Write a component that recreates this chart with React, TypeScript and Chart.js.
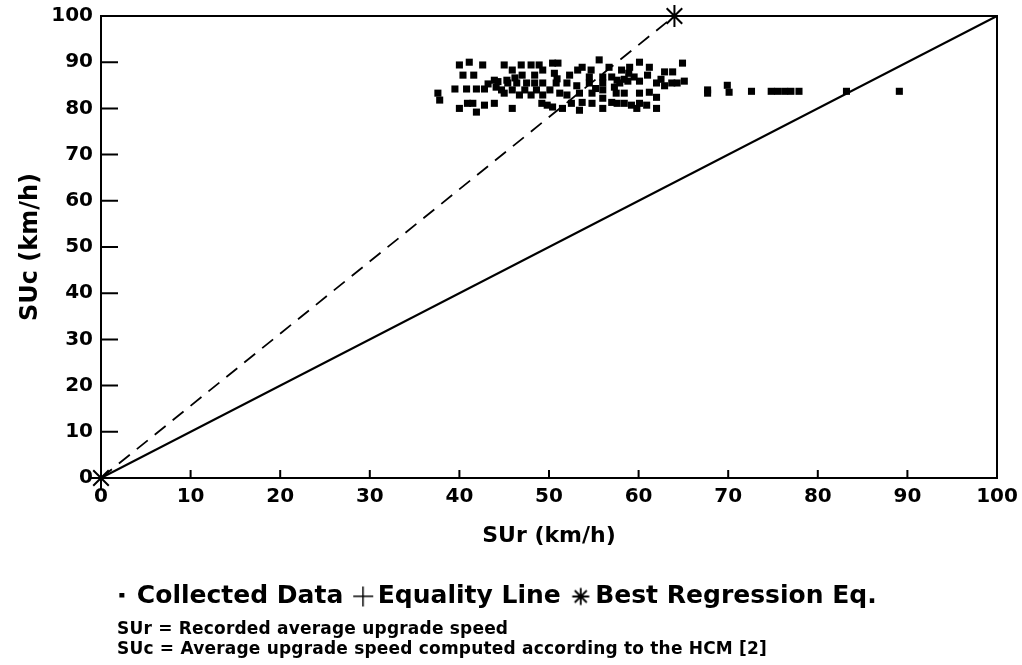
import React, { useEffect, useRef } from "react";
import { Chart, registerables } from "chart.js";

Chart.register(...registerables);

// Collected data: recorded upgrade speed (SUr) and HCM computed speed (SUc)
const collectedSUr: number[] = [
  40.0, 41.1, 42.6, 45.0, 45.9, 46.9, 48.0, 48.9, 49.3, 50.4,
  40.4, 41.6, 43.9, 45.3, 47.0, 48.4,
  39.5, 40.8, 41.9, 42.8, 44.1, 45.4, 46.4, 47.5, 48.4, 49.3,
  44.7, 45.9, 47.3, 48.6, 50.1,
  37.6, 37.8,
  45.0, 46.7, 48.0, 49.3,
  40.0, 40.9, 41.5, 42.8, 43.9, 41.9, 45.9, 49.2, 49.8, 50.4,
  51.0, 55.6, 56.7, 60.1, 59.0, 58.1, 53.7, 53.2, 54.7, 61.2, 62.9, 63.8, 64.9,
  61.0, 50.6, 56.0, 57.0, 57.6, 59.5, 58.4, 52.3, 54.5,
  50.8, 52.0, 53.1, 54.5, 56.0, 57.9, 58.8, 60.1, 62.0, 62.9, 64.3, 65.1, 62.5, 63.7,
  51.2, 52.0, 53.4, 54.8, 56.0, 57.5, 58.4, 60.1, 61.2, 62.0, 57.3,
  52.5, 53.7, 54.8, 56.0, 57.0, 57.6, 58.4, 59.2, 60.1, 60.9, 62.0,
  51.5, 53.4, 56.0, 59.8,
  43.2, 44.3, 46.2, 50.9, 55.2, 58.9,
  67.7, 67.7, 69.9, 70.1, 72.6, 74.8, 75.5, 76.3, 77.0, 77.9, 83.2, 89.1,
];
const collectedSUc: number[] = [
  89.4, 90.0, 89.4, 89.4, 88.3, 89.4, 89.4, 89.4, 88.3, 89.8,
  87.2, 87.2, 86.1, 86.1, 87.2, 87.2,
  84.2, 84.2, 84.2, 84.2, 84.6, 85.5, 85.5, 85.5, 85.5, 85.5,
  84.0, 84.0, 84.0, 84.0, 84.0,
  83.3, 81.8,
  83.3, 82.9, 82.9, 82.9,
  80.0, 81.1, 81.1, 80.7, 81.1, 79.2, 80.0, 81.1, 80.7, 80.3,
  89.8, 90.5, 88.9, 90.0, 88.9, 88.3, 88.9, 88.3, 88.3, 88.9, 87.9, 87.9, 89.8,
  87.2, 87.6, 86.8, 86.8, 86.1, 86.8, 86.3, 87.2, 86.8,
  85.5, 85.5, 84.9, 85.5, 85.5, 85.5, 85.9, 85.9, 85.5, 84.9, 85.5, 85.9, 86.3, 85.5,
  83.3, 82.9, 83.3, 83.3, 84.0, 83.3, 83.3, 83.3, 83.5, 82.4, 84.6,
  81.1, 81.3, 81.1, 82.2, 81.3, 81.1, 81.1, 80.7, 81.1, 80.7, 80.0,
  80.0, 79.6, 80.0, 80.0,
  85.3, 85.8, 86.6, 86.4, 84.3, 87.6,
  83.3, 84.0, 85.0, 83.5, 83.7, 83.7, 83.7, 83.7, 83.7, 83.7, 83.7, 83.7,
];

// Equality line and best regression line end points
const equalitySUr: number[] = [0, 100];
const equalitySUc: number[] = [0, 100];
const regressionSUr: number[] = [0, 64];
const regressionSUc: number[] = [0, 100];

const xTicks: number[] = [0, 10, 20, 30, 40, 50, 60, 70, 80, 90, 100];
const yTicks: number[] = [0, 10, 20, 30, 40, 50, 60, 70, 80, 90, 100];

const legendLabels: string[] = ["Collected Data", "Equality Line", "Best Regression Eq."];
const notes: string[] = [
  "SUr = Recorded average upgrade speed",
  "SUc = Average upgrade speed computed according to the HCM [2]",
];

const FONT = "'DejaVu Sans', 'Liberation Sans', sans-serif";

function makeMarker(kind: string): HTMLCanvasElement {
  const c = document.createElement("canvas");
  const size = kind === "rect" ? 8 : 22;
  c.width = size;
  c.height = size;
  const ctx = c.getContext("2d")!;
  ctx.strokeStyle = "#000";
  ctx.fillStyle = "#000";
  if (kind === "rect") {
    ctx.fillRect(1, 0, 5, 5);
  } else if (kind === "cross") {
    ctx.fillRect(1, 10, 20, 1.5);
    ctx.fillRect(10, 1, 1.5, 20);
  } else {
    ctx.lineWidth = 1.8;
    const cx = 11, cy = 11, r = 8.5;
    ctx.beginPath();
    for (let k = 0; k < 4; k++) {
      const a = (Math.PI / 4) * k;
      ctx.moveTo(cx + r * Math.cos(a), cy + r * Math.sin(a));
      ctx.lineTo(cx - r * Math.cos(a), cy - r * Math.sin(a));
    }
    ctx.stroke();
  }
  return c;
}

const framePlugin = {
  id: "frameTicks",
  afterDraw(chart: any) {
    const { ctx, chartArea, scales } = chart;
    const { left, right, top, bottom } = chartArea;
    ctx.save();
    ctx.strokeStyle = "#000";
    ctx.lineWidth = 2;
    ctx.strokeRect(left, top, right - left, bottom - top);
    ctx.beginPath();
    scales.y.ticks.forEach((t: any) => {
      const py = scales.y.getPixelForValue(t.value);
      ctx.moveTo(left, py);
      ctx.lineTo(left + 17, py);
    });
    scales.x.ticks.forEach((t: any) => {
      const px = scales.x.getPixelForValue(t.value);
      ctx.moveTo(px, bottom);
      ctx.lineTo(px, bottom - 8);
    });
    ctx.stroke();
    ctx.restore();
  },
};

export default function App() {
  const canvasRef = useRef<HTMLCanvasElement | null>(null);

  useEffect(() => {
    document.body.style.margin = "0";
    const markers = [makeMarker("rect"), makeMarker("cross"), makeMarker("star")];
    const chart = new Chart(canvasRef.current!, {
      type: "scatter",
      data: {
        datasets: [
          {
            label: legendLabels[0],
            data: collectedSUr.map((x, i) => ({ x, y: collectedSUc[i] })),
            pointStyle: "rect",
            pointRadius: 5,
            backgroundColor: "#000",
            borderColor: "#000",
            borderWidth: 0,
          },
          {
            label: legendLabels[1],
            type: "line",
            data: equalitySUr.map((x, i) => ({ x, y: equalitySUc[i] })),
            borderColor: "#000",
            borderWidth: 2,
            pointRadius: 0,
            pointStyle: "cross",
            showLine: true,
            fill: false,
            clip: false,
          } as any,
          {
            label: legendLabels[2],
            type: "line",
            data: regressionSUr.map((x, i) => ({ x, y: regressionSUc[i] })),
            borderColor: "#000",
            borderWidth: 1.8,
            borderDash: [14, 9],
            pointStyle: "star",
            pointRadius: 11,
            pointBorderWidth: 2,
            pointBorderColor: "#000",
            pointBackgroundColor: "#000",
            showLine: true,
            fill: false,
            clip: false,
          } as any,
        ],
      },
      options: {
        animation: false,
        responsive: false,
        color: "#000",
        layout: { padding: { left: 0, right: 25, top: 16, bottom: 46 } },
        scales: {
          x: {
            type: "linear",
            min: 0,
            max: 100,
            afterBuildTicks: (s: any) => {
              s.ticks = xTicks.map((v) => ({ value: v }));
            },
            afterFit: (s: any) => {
              s.height = 88;
              s.paddingLeft = 0;
              s.paddingRight = 0;
            },
            grid: { display: false, drawTicks: false },
            border: { display: false },
            ticks: {
              color: "#000",
              padding: 7,
              maxRotation: 0,
              font: { family: FONT, size: 20, weight: "bold" },
            },
            title: {
              display: true,
              text: "SUr (km/h)",
              color: "#000",
              padding: { top: 2, bottom: 17 },
              font: { family: FONT, size: 22, weight: "bold" },
            },
          },
          y: {
            type: "linear",
            min: 0,
            max: 100,
            afterBuildTicks: (s: any) => {
              s.ticks = yTicks.map((v) => ({ value: v }));
            },
            afterFit: (s: any) => {
              s.width = 101;
              s.paddingTop = 0;
              s.paddingBottom = 0;
            },
            grid: { display: false, drawTicks: false },
            border: { display: false },
            ticks: {
              color: "#000",
              padding: 8,
              font: { family: FONT, size: 20, weight: "bold" },
            },
            title: {
              display: true,
              text: "SUc (km/h)",
              color: "#000",
              padding: { top: 16, bottom: 4 },
              font: { family: FONT, size: 24, weight: "bold" },
            },
          },
        },
        plugins: {
          legend: {
            display: true,
            position: "bottom",
            labels: {
              usePointStyle: true,
              pointStyleWidth: 4,
              boxHeight: 14,
              padding: 18,
              color: "#000",
              font: { family: FONT, size: 25, weight: "bold" },
              generateLabels: (c: any) => {
                const items = (Chart.defaults.plugins.legend.labels as any).generateLabels(c);
                items.forEach((it: any) => {
                  it.pointStyle = markers[it.datasetIndex];
                  it.lineDash = [];
                });
                return items;
              },
            },
          },
          tooltip: { enabled: false },
        },
      } as any,
      plugins: [framePlugin],
    });
    return () => chart.destroy();
  }, []);

  return (
    <div style={{ position: "relative", width: 1022, height: 665, background: "#fff" }}>
      <canvas ref={canvasRef} width={1022} height={665} style={{ display: "block" }} />
      <div
        style={{
          position: "absolute",
          left: 117,
          top: 618,
          fontFamily: FONT,
          fontWeight: "bold",
          fontSize: 17,
          letterSpacing: 0.2,
          lineHeight: "20px",
          color: "#000",
          whiteSpace: "nowrap",
        }}
      >
        {notes.map((n) => (
          <div key={n}>{n}</div>
        ))}
      </div>
    </div>
  );
}
